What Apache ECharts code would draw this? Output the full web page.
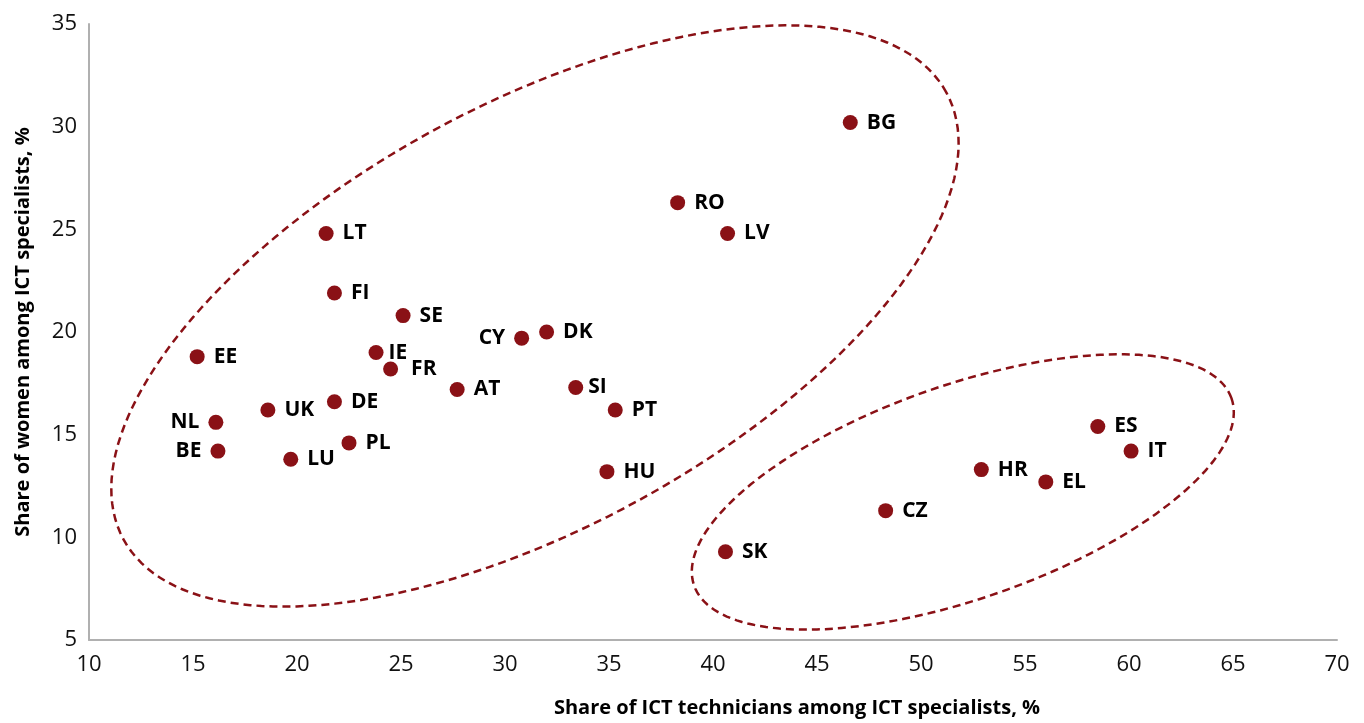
<!DOCTYPE html>
<html>
<head>
<meta charset="utf-8">
<script src="https://cdn.jsdelivr.net/npm/echarts@6/dist/echarts.min.js"></script>
<style>
  html, body { margin: 0; padding: 0; background: #ffffff; }
  #main { width: 1364px; height: 723px; }
</style>
</head>
<body>
<div id="main"></div>
<script>
// ---- Data ----
const countries = ['BG','RO','LV','LT','FI','SE','EE','IE','FR','AT','CY','DK','SI','PT','DE','UK','NL','BE','LU','PL','HU','SK','CZ','HR','EL','ES','IT'];
const techShare = [46.6,38.3,40.7,21.4,21.8,25.1,15.2,23.8,24.5,27.7,30.8,32.0,33.4,35.3,21.8,18.6,16.1,16.2,19.7,22.5,34.9,40.6,48.3,52.9,56.0,58.5,60.1];
const womenShare = [30.2,26.3,24.8,24.8,21.9,20.8,18.8,19.0,18.2,17.2,19.7,20.0,17.3,16.2,16.6,16.2,15.6,14.2,13.8,14.6,13.2,9.3,11.3,13.3,12.7,15.4,14.2];
const xTicks = { min: 10, max: 70, step: 5 };
const yTicks = { min: 5, max: 35, step: 5 };

// ---- Annotation outlines (center in data units, semi-axes in x-units, tilt in degrees) ----
const outlineCenters = [[31.44, 20.78], [52.01, 12.21]];
const outlineAxes = [[22.51, 10.17], [13.68, 5.14]];
const outlineTilt = [28.5, 19.2];

// ---- Styles ----
const RED = '#8a1116';
const leftLabels = ['CY', 'NL', 'BE'];
const labelDistance = { FR: 13, IE: 5, SI: 5 };
const FONT = '"Open Sans", "Noto Sans", sans-serif';

const pointData = countries.map((c, i) => {
  const item = { name: c, value: [techShare[i], womenShare[i]] };
  const lbl = {};
  if (leftLabels.indexOf(c) >= 0) lbl.position = 'left';
  if (labelDistance[c] !== undefined) lbl.distance = labelDistance[c];
  item.label = lbl;
  return item;
});

const outlineData = outlineCenters.map((c, i) => [c[0], c[1], outlineAxes[i][0], outlineAxes[i][1], outlineTilt[i]]);

const chart = echarts.init(document.getElementById('main'));
chart.setOption({
  animation: false,
  backgroundColor: '#ffffff',
  grid: { left: 89, right: 27, top: 24, bottom: 79, containLabel: false },
  xAxis: {
    type: 'value',
    min: xTicks.min, max: xTicks.max, interval: xTicks.step,
    name: 'Share of ICT technicians among ICT specialists, %',
    nameLocation: 'middle',
    nameGap: 58,
    nameTextStyle: { fontFamily: FONT, fontWeight: 'bold', fontSize: 20, color: '#000', padding: [0, 0, 0, 168] },
    axisLine: { show: true, lineStyle: { color: '#b0b0b0', width: 2 } },
    axisTick: { show: false },
    splitLine: { show: false },
    axisLabel: { fontFamily: FONT, fontSize: 22, color: '#111', margin: 14 }
  },
  yAxis: {
    type: 'value',
    min: yTicks.min, max: yTicks.max, interval: yTicks.step,
    name: 'Share of women among ICT specialists, %',
    nameLocation: 'middle',
    nameGap: 56,
    nameTextStyle: { fontFamily: FONT, fontWeight: 'bold', fontSize: 20, color: '#000', padding: [22, 0, 0, 0] },
    axisLine: { show: true, lineStyle: { color: '#b0b0b0', width: 2 } },
    axisTick: { show: false },
    splitLine: { show: false },
    axisLabel: { fontFamily: FONT, fontSize: 22, color: '#111', margin: 12 }
  },
  series: [
    {
      type: 'custom',
      silent: true,
      z: 1,
      clip: false,
      encode: { x: 0, y: 1 },
      data: outlineData,
      renderItem: function (params, api) {
        const c = api.coord([api.value(0), api.value(1)]);
        const unit = api.size([1, 1]);
        const rx = api.value(2) * unit[0];
        const ry = api.value(3) * unit[0];
        const th = api.value(4) * Math.PI / 180;
        const pts = [];
        const n = 180;
        for (let k = 0; k < n; k++) {
          const t = 2 * Math.PI * k / n;
          const ex = rx * Math.cos(t), ey = ry * Math.sin(t);
          pts.push([c[0] + ex * Math.cos(th) - ey * Math.sin(th),
                    c[1] - (ex * Math.sin(th) + ey * Math.cos(th))]);
        }
        return {
          type: 'polygon',
          shape: { points: pts },
          style: { fill: 'none', stroke: RED, lineWidth: 2.5, lineDash: [8, 5] }
        };
      }
    },
    {
      type: 'scatter',
      z: 3,
      symbol: 'circle',
      symbolSize: 15,
      itemStyle: { color: RED, opacity: 1 },
      emphasis: { disabled: true },
      label: {
        show: true,
        position: 'right',
        distance: 9,
        formatter: '{b}',
        fontFamily: FONT,
        fontWeight: 'bold',
        fontSize: 21,
        color: '#000'
      },
      data: pointData
    }
  ]
});
</script>
</body>
</html>
